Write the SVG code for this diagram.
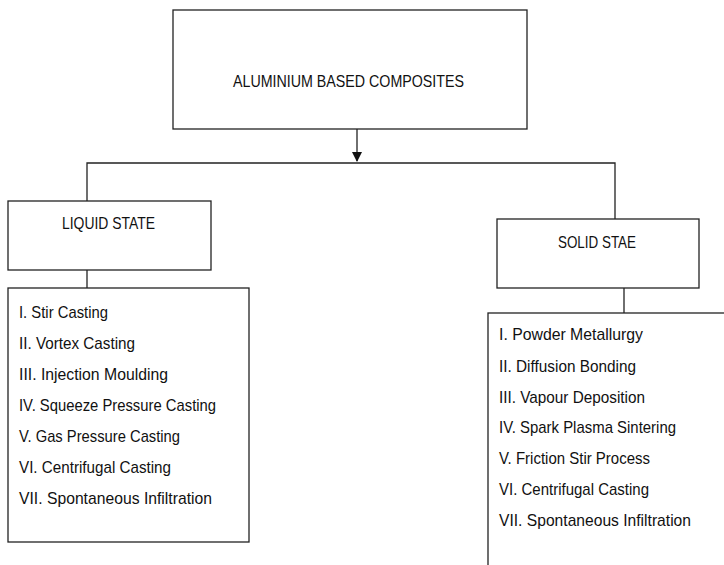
<svg xmlns="http://www.w3.org/2000/svg" width="724" height="565" viewBox="0 0 724 565">
<defs>
<style>
.box{fill:#fff;stroke:#222;stroke-width:1.3}
.ln{fill:none;stroke:#222;stroke-width:1.3}
text{font-family:"Liberation Sans","Open Sans",sans-serif;font-size:17px;fill:#111}
</style>
<marker id="ah" markerWidth="10" markerHeight="12" refX="9" refY="5" orient="auto" markerUnits="userSpaceOnUse">
<path d="M0,0 L10,5 L0,10 Z" fill="#111"/>
</marker>
</defs>
<rect width="724" height="565" fill="#fff"/>
<g id="connectors">
<line class="ln" x1="357" y1="129" x2="357" y2="161" marker-end="url(#ah)"/>
<polyline class="ln" points="87,201 87,163 615,163 615,219"/>
<line class="ln" x1="87" y1="270" x2="87" y2="288"/>
<line class="ln" x1="624" y1="288" x2="624" y2="313"/>
</g>
<g id="root">
<rect class="box" x="173" y="10" width="354" height="119"/>
<text x="233" y="87" textLength="231" lengthAdjust="spacingAndGlyphs">ALUMINIUM BASED COMPOSITES</text>
</g>
<g id="liquid">
<rect class="box" x="8" y="201" width="203" height="69"/>
<text x="62" y="229" textLength="93" lengthAdjust="spacingAndGlyphs">LIQUID STATE</text>
</g>
<g id="solid">
<rect class="box" x="497" y="219" width="202" height="69"/>
<text x="558" y="248" textLength="78" lengthAdjust="spacingAndGlyphs">SOLID STAE</text>
</g>
<g id="liquid-list">
<rect class="box" x="8" y="288" width="241" height="254"/>
<text x="19" y="318" textLength="89" lengthAdjust="spacingAndGlyphs">I. Stir Casting</text>
<text x="19" y="349" textLength="116" lengthAdjust="spacingAndGlyphs">II. Vortex Casting</text>
<text x="19" y="380" textLength="149" lengthAdjust="spacingAndGlyphs">III. Injection Moulding</text>
<text x="19" y="411" textLength="197" lengthAdjust="spacingAndGlyphs">IV. Squeeze  Pressure Casting</text>
<text x="19" y="442" textLength="161" lengthAdjust="spacingAndGlyphs">V. Gas Pressure Casting</text>
<text x="19" y="473" textLength="152" lengthAdjust="spacingAndGlyphs">VI. Centrifugal Casting</text>
<text x="19" y="504" textLength="193" lengthAdjust="spacingAndGlyphs">VII. Spontaneous  Infiltration</text>
</g>
<g id="solid-list">
<rect class="box" x="488" y="313" width="260" height="280"/>
<text x="499" y="340" textLength="144" lengthAdjust="spacingAndGlyphs">I. Powder Metallurgy</text>
<text x="499" y="372" textLength="137" lengthAdjust="spacingAndGlyphs">II. Diffusion Bonding</text>
<text x="499" y="403" textLength="146" lengthAdjust="spacingAndGlyphs">III. Vapour Deposition</text>
<text x="499" y="433" textLength="177" lengthAdjust="spacingAndGlyphs">IV. Spark Plasma Sintering</text>
<text x="499" y="464" textLength="151" lengthAdjust="spacingAndGlyphs">V. Friction Stir Process</text>
<text x="499" y="495" textLength="150" lengthAdjust="spacingAndGlyphs">VI. Centrifugal Casting</text>
<text x="499" y="526" textLength="192" lengthAdjust="spacingAndGlyphs">VII. Spontaneous  Infiltration</text>
</g>
</svg>
